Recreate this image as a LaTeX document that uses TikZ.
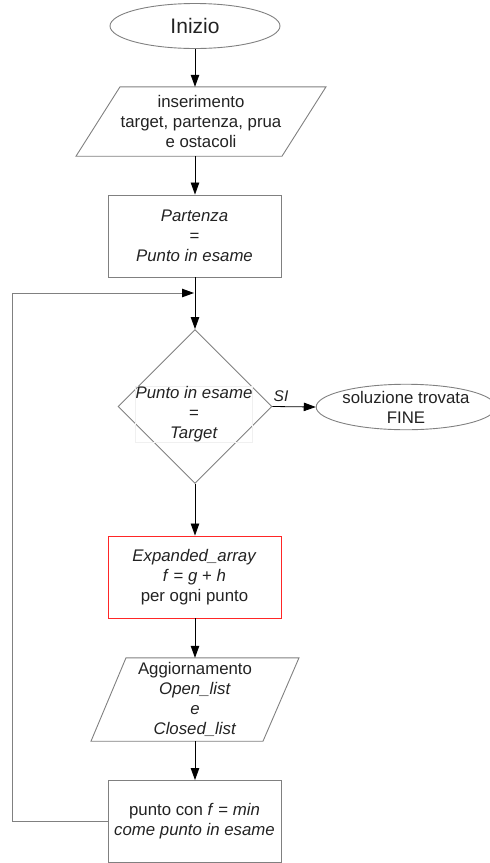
\documentclass[tikz,border=0pt]{standalone}
\usepackage{fontspec}
\setmainfont{Liberation Sans}
\usetikzlibrary{shapes.geometric,arrows.meta,calc}

\definecolor{edge}{HTML}{808080}
\definecolor{ink}{HTML}{222222}
\definecolor{faint}{HTML}{F0F0F0}

\tikzset{
  base/.style={font=\fontsize{16.8}{20}\selectfont, text=ink, align=center, inner sep=0pt},
  term/.style={base, ellipse, draw=edge, line width=0.9pt},
  proc/.style={base, rectangle, draw=edge, line width=0.9pt, minimum width=173, minimum height=82},
  textonly/.style={base},
  decide/.style={diamond, draw=edge, line width=0.9pt, inner sep=0pt, minimum width=154, minimum height=154},
  tip/.style={-{Triangle[length=12pt,width=8.5pt,color=black]}},
  flow/.style={draw=black, line width=0.8pt, tip},
  loopline/.style={draw=edge, line width=0.9pt},
  outline/.style={draw=edge, line width=0.9pt, line join=miter}
}

\begin{document}
\begin{tikzpicture}[x=1pt,y=-1pt]
\useasboundingbox (0,0) rectangle (490,863);

% start
\node[term, minimum width=170, minimum height=45, font=\fontsize{21}{24}\selectfont] (start) at (195,26) {Inizio};

% data input
\node[textonly, minimum height=69] (input) at (201,121.5) {inserimento\\target, partenza, prua\\e ostacoli};
\draw[outline] ($(input.north)+(-81,0)$) -- ($(input.north)+(125,0)$)
  -- ($(input.south)+(81,0)$) -- ($(input.south)+(-125,0)$) -- cycle;

% initial point
\node[proc] (init) at (194.5,236) {\textit{Partenza}\\=\\\textit{Punto in esame}};

% goal test: outline and its text box
\node[decide] (test) at (195,406.5) {};
\node[textonly, draw=faint, line width=0.5pt, minimum width=110, minimum height=52] (testtext) at (194,414) {\textit{Punto in esame}\\=\\\textit{Target}};

% end
\node[term, minimum width=167, minimum height=44] (stop) at (406,407) {soluzione trovata\\FINE};

% expansion
\node[proc, draw=red!85!white] (expand) at (194.5,577) {\textit{Expanded\_array}\\\textit{f} = \textit{g} + \textit{h}\\per ogni punto};

% list update
\node[textonly, minimum height=83] (update) at (195,699.5) {Aggiornamento\\\textit{Open\_list}\\\textit{e}\\\textit{Closed\_list}};
\draw[outline] ($(update.north)+(-69,0)$) -- ($(update.north)+(104,0)$)
  -- ($(update.south)+(68,0)$) -- ($(update.south)+(-104,0)$) -- cycle;

% next point
\node[proc] (next) at (194.5,821.5) {punto con \textit{f} = \textit{min}\\\textit{come punto in esame}};

% connectors
\coordinate (merge) at (195,293);
\coordinate (leftlow) at (12,821);
\coordinate (lefthigh) at (12,293);

\draw[flow] (start.south) -- (start.south |- input.north);
\draw[flow] (start.south |- input.south) -- (start.south |- init.north);
\draw[line width=0.8pt] (start.south |- init.south) -- (merge);
\draw[flow] (merge) -- (test.north);
\draw[flow] (test.east) -- (stop.west);
\node[textonly, font=\fontsize{15.5}{17}\selectfont\itshape] (si) at (281,396) {SI};
\draw[flow] (test.south) -- (start.south |- expand.north);
\draw[flow] (start.south |- expand.south) -- (start.south |- update.north);
\draw[flow] (start.south |- update.south) -- (start.south |- next.north);
\draw[loopline] (next.west |- leftlow) -- (leftlow) -- (lefthigh);
\draw[loopline, tip] (lefthigh) -- ([xshift=-1pt]merge);
\end{tikzpicture}
\end{document}
